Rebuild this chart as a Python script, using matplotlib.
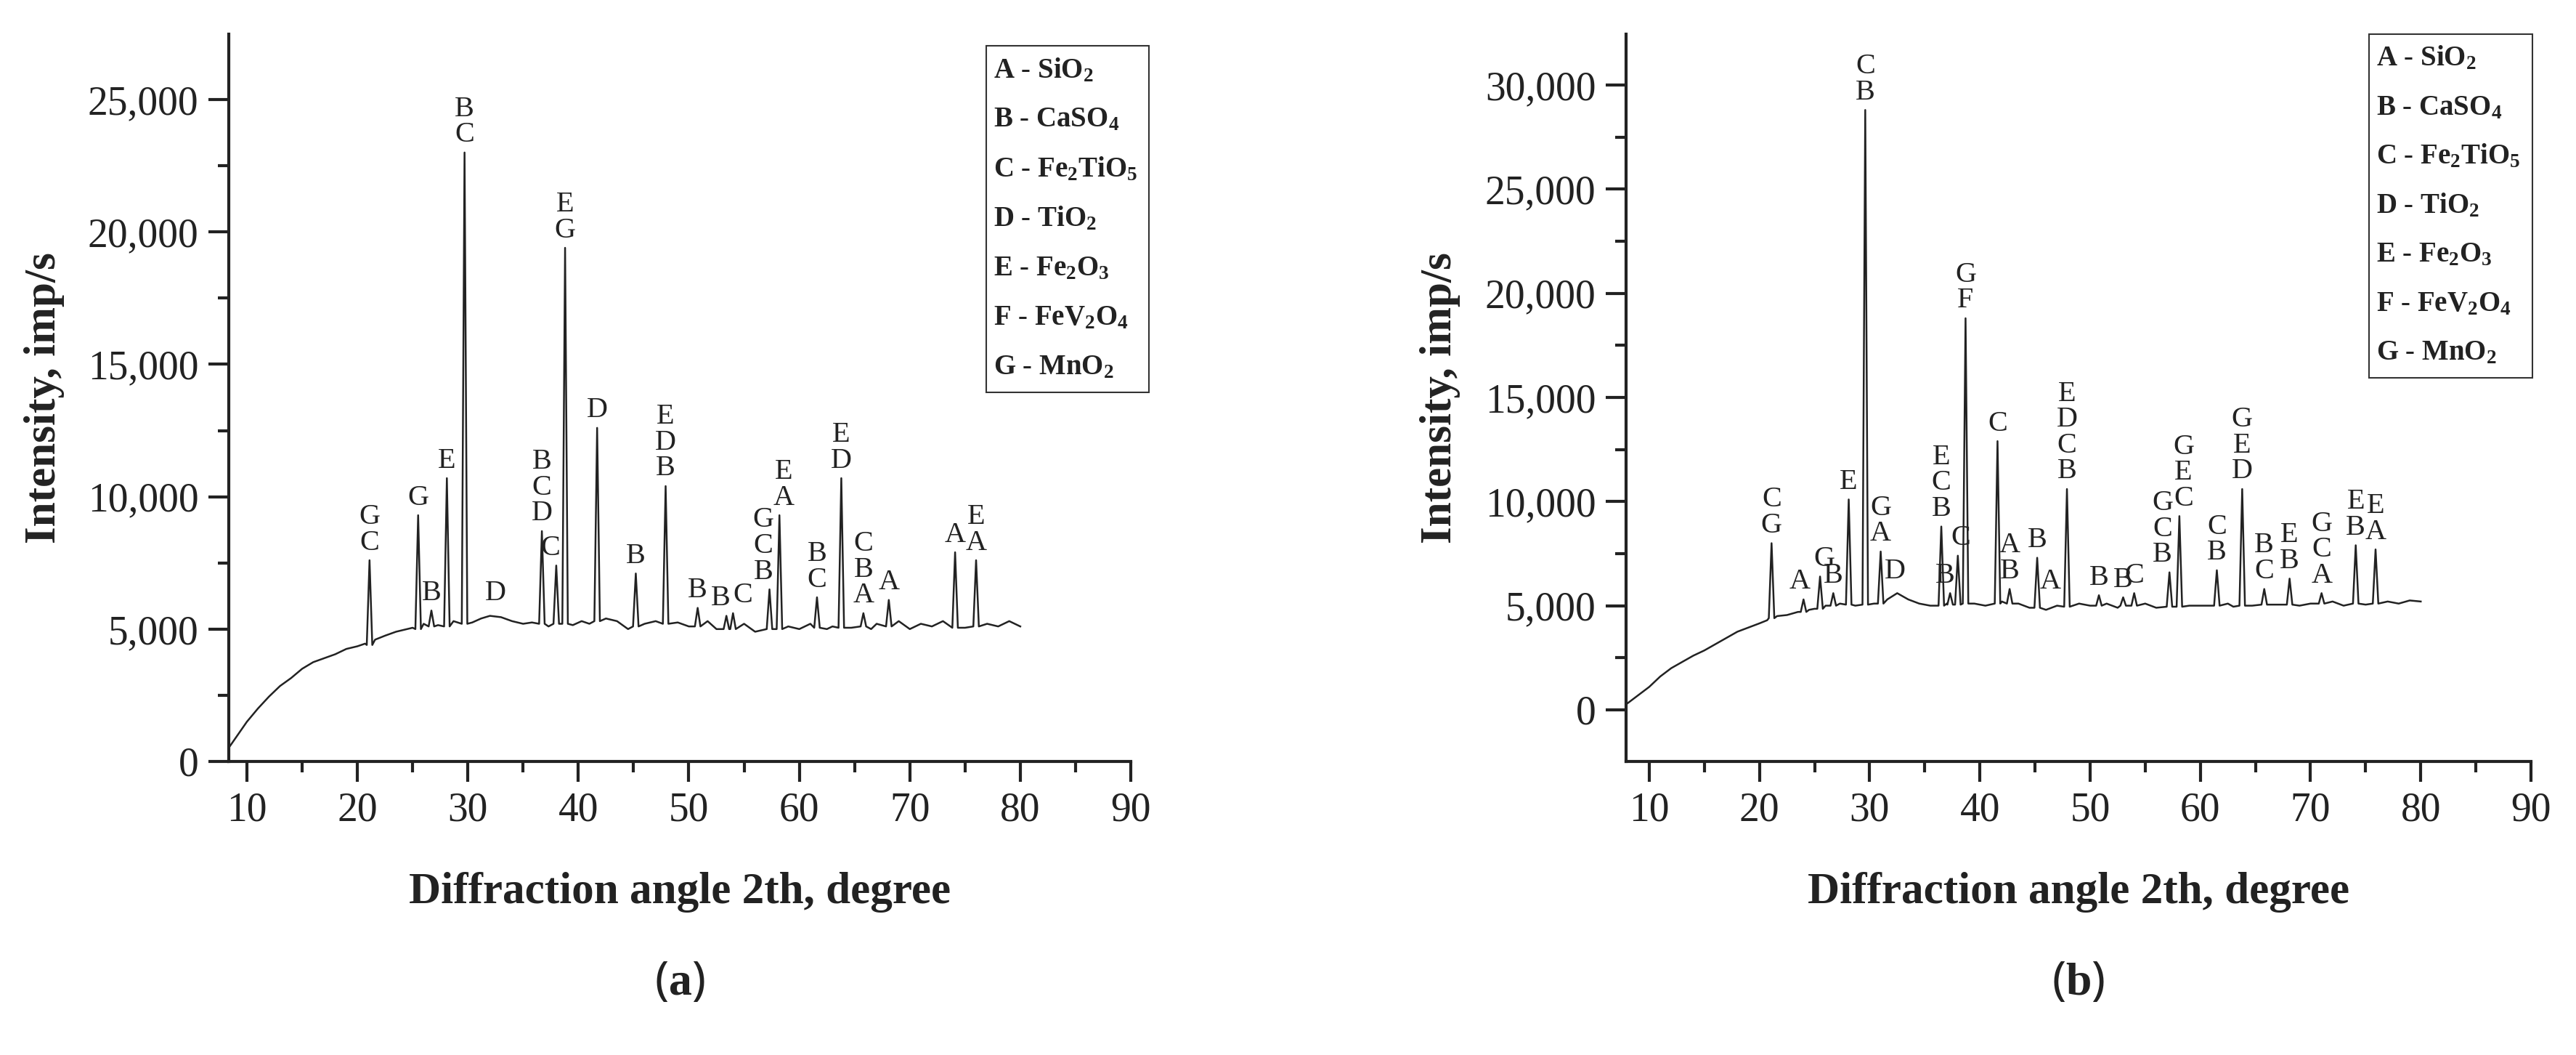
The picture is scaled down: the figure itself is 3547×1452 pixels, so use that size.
import matplotlib
matplotlib.use("Agg")
import matplotlib.pyplot as plt
from matplotlib.patches import Rectangle
from matplotlib.ticker import MultipleLocator, FuncFormatter

plt.rcParams['font.family'] = ['Liberation Serif', 'DejaVu Serif']
plt.rcParams['mathtext.fontset'] = 'custom'
plt.rcParams['mathtext.rm'] = 'Liberation Serif:bold'
plt.rcParams['mathtext.it'] = 'Liberation Serif:bold'
plt.rcParams['mathtext.bf'] = 'Liberation Serif:bold'

# ---------------- data: panel (a) ----------------
bg_a_x = [8.0, 9.0, 10.0, 11.0, 12.0, 13.0, 14.0, 15.0, 16.0, 17.0, 18.0, 19.0, 20.0, 20.7,
          21.6, 22.5, 23.5, 24.5, 25.0, 26.0, 27.3, 28.7, 30.4, 31.2, 32.0, 33.0, 34.0, 35.0,
          35.8, 37.3, 39.5, 40.3, 41.0, 42.5, 43.5, 44.5, 46.0, 47.0, 49.0, 50.0, 51.7, 52.5,
          55.0, 56.0, 59.0, 60.0, 61.0, 62.5, 63.0, 64.7, 66.5, 67.0, 69.0, 70.0, 71.0, 72.0,
          73.0, 75.0, 77.0, 78.0, 79.0, 80.0]
bg_a_y = [300, 900, 1500, 2000, 2450, 2850, 3150, 3500, 3750, 3900, 4050, 4250, 4350, 4450,
          4600, 4750, 4900, 5000, 5050, 5200, 5150, 5300, 5250, 5400, 5500, 5450, 5300, 5200,
          5250, 5100, 5150, 5300, 5200, 5400, 5300, 5000, 5200, 5300, 5250, 5100, 5300, 5000,
          5200, 4900, 5100, 5000, 5200, 5000, 5100, 5050, 5000, 5200, 5300, 5000, 5200, 5100,
          5300, 5050, 5200, 5100, 5300, 5100]
pk_a_pos = [21.1, 25.5, 26.7, 28.1, 29.7, 36.7, 38.0, 38.8, 41.7, 45.2, 47.9, 50.8, 53.4,
            54.0, 57.3, 58.2, 61.6, 63.8, 65.8, 68.1, 74.1, 76.0]
pk_a_top = [7600, 9300, 5700, 10700, 23000, 8700, 7400, 19400, 12600, 7100, 10400, 5800,
            5500, 5600, 6500, 9300, 6200, 10700, 5600, 6100, 7900, 7600]
pk_a_base = [4400, 5000, 5100, 5100, 5200, 5200, 5200, 5200, 5300, 5100, 5200, 5100,
             5000, 5000, 5000, 5000, 5050, 5050, 5100, 5100, 5050, 5100]
pk_a_lab = ['G\nC', 'G', 'B', 'E', 'B\nC', 'B\nC\nD', 'C', 'E\nG', 'D', 'B', 'E\nD\nB', 'B',
            'B', 'C', 'G\nC\nB', 'E\nA', 'B\nC', 'E\nD', 'C\nB\nA', 'A', 'A', 'E\nA']
lab_a_shift = {6: -6, 12: -6, 13: 10, 14: -6, 15: 4}

# ---------------- data: panel (b) ----------------
bg_b_x = [8.0, 9.0, 10.0, 11.0, 12.0, 13.0, 14.0, 15.0, 16.0, 17.0, 18.0, 19.0, 20.0, 20.7,
          21.6, 22.5, 23.5, 24.5, 25.0, 26.0, 27.3, 28.7, 30.4, 31.6, 32.5, 33.5, 34.5, 35.5,
          37.0, 39.5, 40.5, 42.0, 43.5, 44.5, 46.0, 47.0, 49.0, 50.0, 51.5, 52.5, 55.0, 56.0,
          59.0, 60.0, 62.5, 63.0, 64.7, 67.0, 69.0, 70.0, 72.0, 73.0, 75.0, 77.0, 78.0, 79.0, 80.0]
bg_b_y = [300, 700, 1100, 1600, 2000, 2300, 2600, 2850, 3150, 3450, 3750, 3950, 4150, 4300,
          4500, 4550, 4700, 4800, 4850, 5000, 5100, 5000, 5100, 5300, 5600, 5300, 5100, 5000,
          5100, 5100, 5000, 5200, 5100, 4900, 4800, 5000, 5100, 5000, 5100, 4900, 5100, 4900,
          5000, 5000, 5100, 4950, 5000, 5050, 5000, 5100, 5200, 5000, 5050, 5200, 5100, 5250, 5200]
pk_b_pos = [21.1, 24.0, 25.5, 26.7, 28.1, 29.6, 31.0, 36.5, 37.3, 38.0, 38.7, 41.6, 42.7,
            45.2, 47.9, 50.8, 53.0, 54.0, 57.2, 58.1, 61.5, 63.8, 65.8, 68.1, 71.0, 74.1, 75.9]
pk_b_top = [8000, 5300, 6400, 5600, 10100, 28800, 7600, 8800, 5600, 7400, 18800, 12900, 5800,
            7300, 10600, 5500, 5400, 5600, 6600, 9300, 6700, 10600, 5800, 6300, 5600, 7900, 7700]
pk_b_base = [4400, 4700, 4850, 5000, 5050, 5050, 5100, 5000, 5050, 5050, 5100, 5100, 5100,
             4900, 4950, 5000, 5000, 5000, 4950, 4950, 5000, 5000, 5050, 5050, 5100, 5100, 5100]
pk_b_lab = ['C\nG', 'A', 'G', 'B', 'E', 'C\nB', 'G\nA', 'E\nC\nB', 'B', 'C', 'G\nF', 'C',
            'A\nB', 'B', 'E\nD\nC\nB', 'B', 'B', 'C', 'G\nC\nB', 'G\nE\nC', 'C\nB', 'G\nE\nD',
            'B\nC', 'E\nB', 'G\nC\nA', 'E\nB', 'E\nA']
lab_b_shift = {1: -4, 2: 4, 8: -5, 9: 3, 18: -7, 19: 4}
extra_b_lab_pos = [32.3, 46.4]
extra_b_lab_val = [5800, 5300]
extra_b_lab = ['D', 'A']
extra_a_lab_pos = [32.5]
extra_a_lab_val = [5700]
extra_a_lab = ['D']

legend_items = [r'A - SiO$_2$', r'B - CaSO$_4$', r'C - Fe$_2$TiO$_5$', r'D - TiO$_2$',
                r'E - Fe$_2$O$_3$', r'F - FeV$_2$O$_4$', r'G - MnO$_2$']
yticks_a = [0, 5000, 10000, 15000, 20000, 25000]
yticks_b = [0, 5000, 10000, 15000, 20000, 25000, 30000]
xticks = [10, 20, 30, 40, 50, 60, 70, 80, 90]


def trace(bx, by, pp, pt, pb):
    pts = list(zip(bx, by))
    for p, t, b in zip(pp, pt, pb):
        pts += [(p - 0.25, b), (p, t), (p + 0.25, b)]
    pts.sort()
    return [q[0] for q in pts], [q[1] for q in pts]


W, H = 3548, 1452
fig = plt.figure(figsize=(W / 100, H / 100), dpi=100)

panels = [
    dict(rect=[315 / W, 1 - 1048 / H, 1242 / W, 1001 / H], xlim=(8.36, 90), ylim=(0, 27470),
         bg=(bg_a_x, bg_a_y), pk=(pk_a_pos, pk_a_top, pk_a_base), lab=pk_a_lab, sh=lab_a_shift,
         extra=(extra_a_lab_pos, extra_a_lab_val, extra_a_lab), yt=yticks_a,
         leg=(1358, 63, 1582, 540), ylab_x=61, tag='a'),
    dict(rect=[2239 / W, 1 - 1048 / H, 1246 / W, 1001 / H], xlim=(7.9, 90), ylim=(-2480, 32440),
         bg=(bg_b_x, bg_b_y), pk=(pk_b_pos, pk_b_top, pk_b_base), lab=pk_b_lab, sh=lab_b_shift,
         extra=(extra_b_lab_pos, extra_b_lab_val, extra_b_lab), yt=yticks_b,
         leg=(3262, 47, 3487, 520), ylab_x=1983, tag='b'),
]

for P in panels:
    ax = fig.add_axes(P['rect'])
    x, y = trace(P['bg'][0], P['bg'][1], *P['pk'])
    ax.plot(x, y, color='#222222', lw=1.8)
    ax.set_xlim(*P['xlim'])
    ax.set_ylim(*P['ylim'])
    for s in ['top', 'right']:
        ax.spines[s].set_visible(False)
    for s in ['left', 'bottom']:
        ax.spines[s].set_linewidth(3)
        ax.spines[s].set_color('#222222')
    ax.set_xticks(xticks)
    ax.xaxis.set_minor_locator(MultipleLocator(5))
    ax.set_yticks(P['yt'])
    ax.yaxis.set_minor_locator(MultipleLocator(2500))
    ax.yaxis.set_major_formatter(FuncFormatter(lambda v, p: f'{int(v):,}'))
    ax.tick_params(which='major', direction='out', length=20, width=3, labelsize=40,
                   colors='#222222', pad=10)
    ax.tick_params(which='minor', direction='out', length=11, width=3, colors='#222222')
    ax.set_xlabel('Diffraction angle 2th, degree', fontsize=44, fontweight='bold',
                  labelpad=42, color='#222222')
    for i, (p, t, l) in enumerate(zip(P['pk'][0], P['pk'][1], P['lab'])):
        ax.annotate(l, (p, t), xytext=(P['sh'].get(i, 0), 4), textcoords='offset points',
                    ha='center', va='bottom', fontsize=29, linespacing=0.95, color='#222222')
    for p, t, l in zip(*P['extra']):
        ax.annotate(l, (p, t), xytext=(0, 4), textcoords='offset points', ha='center',
                    va='bottom', fontsize=29, color='#222222')
    fig.text(P['ylab_x'] / W, 1 - 548 / H, 'Intensity, imp/s',
             rotation=90, fontsize=44, fontweight='bold', ha='center', va='center',
             color='#222222')
    x0, y0, x1, y1 = P['leg']
    fig.patches.append(Rectangle((x0 / W, 1 - y1 / H), (x1 - x0) / W, (y1 - y0) / H,
                                 transform=fig.transFigure, fill=False, lw=1.5,
                                 edgecolor='#333333'))
    step = (y1 - y0) / 7
    for i, item in enumerate(legend_items):
        fig.text((x0 + 10) / W, 1 - (y0 + step * (i + 0.5)) / H, item, fontsize=28,
                 fontweight='bold', ha='left', va='center', color='#222222')
    cx = (P['rect'][0] + P['rect'][2] / 2)
    fig.text(cx, 1 - 1352 / H, '(' + r'$\mathbf{' + P['tag'] + '}$' + ')', fontsize=46,
             ha='center', va='center', family=['Noto Sans', 'DejaVu Sans'], color='#222222')

fig.savefig('out.png', dpi=100)
